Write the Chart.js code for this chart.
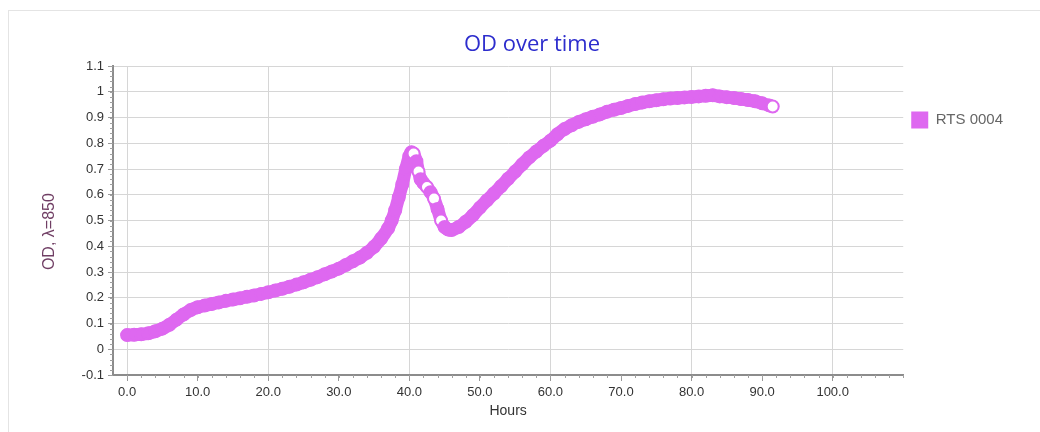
<!DOCTYPE html>
<html>
<head>
<meta charset="utf-8">
<script src="https://cdn.jsdelivr.net/npm/chart.js@4"></script>
<style>
  html, body { margin: 0; padding: 0; background: #fff; }
  #frame { position: absolute; left: 8px; top: 10px; width: 1040px; height: 432px;
           border-left: 1px solid #e4e4e4; border-top: 1px solid #e4e4e4; }
  #wrap { position: absolute; left: 0; top: 0; width: 1040px; height: 432px; }
</style>
</head>
<body>
<div id="frame"></div>
<div id="wrap"><canvas id="cvs_od"></canvas></div>
<script>
// hours since start
var hours = [0, 1, 2, 3, 4, 5, 6, 7, 8, 9, 10, 11, 12, 13, 14, 15, 16, 17, 18, 19,
  20, 21, 22, 23, 24, 25, 26, 27, 28, 29, 30, 31, 32, 33, 34, 35, 36, 37, 37.5, 38,
  38.5, 39, 39.5, 40, 40.3, 40.6, 41, 41.3, 41.6, 42, 42.5, 43, 43.5, 44, 44.5, 45,
  45.5, 46, 47, 48, 49, 50, 51, 52, 53, 54, 55, 56, 57, 58, 59, 60, 61, 62, 63, 64,
  65, 66, 67, 68, 69, 70, 71, 72, 73, 74, 75, 76, 77, 78, 79, 80, 81, 82, 83, 84,
  85, 86, 87, 88, 89, 90, 91, 91.5];
// OD at 850 nm
var od = [0.055, 0.056, 0.058, 0.062, 0.07, 0.08, 0.095, 0.115, 0.135, 0.152, 0.163,
  0.17, 0.176, 0.182, 0.188, 0.193, 0.198, 0.204, 0.209, 0.215, 0.221, 0.228, 0.235,
  0.243, 0.251, 0.26, 0.27, 0.28, 0.291, 0.302, 0.313, 0.327, 0.342, 0.356, 0.375,
  0.398, 0.43, 0.47, 0.5, 0.54, 0.59, 0.64, 0.7, 0.75, 0.765, 0.76, 0.73, 0.69, 0.66,
  0.645, 0.63, 0.61, 0.585, 0.545, 0.5, 0.475, 0.465, 0.463, 0.475, 0.495, 0.52, 0.55,
  0.578, 0.605, 0.633, 0.662, 0.69, 0.718, 0.745, 0.768, 0.79, 0.81, 0.835, 0.855,
  0.87, 0.883, 0.893, 0.903, 0.912, 0.922, 0.93, 0.937, 0.945, 0.952, 0.958, 0.963,
  0.967, 0.971, 0.974, 0.976, 0.978, 0.98, 0.982, 0.984, 0.986, 0.982, 0.979, 0.976,
  0.972, 0.968, 0.963, 0.955, 0.947, 0.943];
var xTicks = [0, 10, 20, 30, 40, 50, 60, 70, 80, 90, 100];
var yTicks = [-0.1, 0, 0.1, 0.2, 0.3, 0.4, 0.5, 0.6, 0.7, 0.8, 0.9, 1, 1.1];
// readings whose marker shows as an open ring
var openRings = [40.6, 41.3, 42.5, 43.5, 44.5, 91.5];

var violet = 'rgb(222, 104, 240)';
var points = hours.map(function (h, i) { return { x: h, y: od[i] }; });

// small tick marks between the labelled ones
var minorTicks = {
  id: 'minorTicks',
  afterDraw: function (chart) {
    var ctx = chart.ctx, xs = chart.scales.x, ys = chart.scales.y;
    ctx.save();
    ctx.strokeStyle = '#a0a0a0';
    ctx.lineWidth = 1;
    ctx.beginPath();
    for (var v = 0; v <= 110; v += 2) {
      var px = Math.round(xs.getPixelForValue(v)) + 0.5;
      ctx.moveTo(px, ys.bottom); ctx.lineTo(px, ys.bottom + 3);
    }
    for (var k = -5; k <= 55; k++) {
      var py = Math.round(ys.getPixelForValue(k * 0.02)) + 0.5;
      ctx.moveTo(xs.left - 3, py); ctx.lineTo(xs.left, py);
    }
    ctx.stroke();
    ctx.restore();
  }
};

var config = {
  type: 'line',
  data: {
    datasets: [{
      label: 'RTS 0004',
      data: points,
      borderColor: violet,
      backgroundColor: violet,
      borderWidth: 13,
      borderJoinStyle: 'round',
      borderCapStyle: 'round',
      tension: 0.2,
      fill: false,
      pointRadius: 6,
      pointBorderWidth: 2,
      pointBorderColor: violet,
      pointBackgroundColor: function (c) {
        var h = hours[c.dataIndex];
        return openRings.indexOf(h) >= 0 ? '#fff' : violet;
      }
    }]
  },
  options: {
    responsive: true,
    maintainAspectRatio: false,
    animation: false,
    layout: { padding: { top: 0, bottom: 0, left: 51, right: 27 } },
    plugins: {
      title: {
        display: true,
        text: 'OD over time',
        color: 'rgb(45, 45, 205)',
        font: { family: 'Open Sans', size: 22, weight: 'normal' },
        padding: { top: 32, bottom: 7.6 }
      },
      legend: {
        position: 'right',
        align: 'start',
        fullSize: false,
        title: { display: true, text: ' ', font: { size: 12 }, padding: { top: 23, bottom: 0 } },
        labels: {
          boxWidth: 17,
          boxHeight: 17,
          padding: 8,
          color: '#333',
          font: { family: 'Liberation Sans', size: 15 },
          generateLabels: function (chart) {
            return [{ text: 'RTS 0004', fillStyle: violet, strokeStyle: violet, lineWidth: 0, datasetIndex: 0 }];
          }
        }
      },
      tooltip: { enabled: false }
    },
    scales: {
      x: {
        type: 'linear',
        min: -2,
        max: 110,
        afterBuildTicks: function (s) { s.ticks = xTicks.map(function (v) { return { value: v }; }); },
        afterFit: function (s) { s.height = 57; },
        ticks: {
          color: '#333',
          font: { family: 'Liberation Sans', size: 13 },
          padding: 4,
          maxRotation: 0,
          callback: function (v) { return Number(v).toFixed(1); }
        },
        grid: {
          color: function (c) { return c.tick && c.tick.value % 20 === 0 ? '#d6d6d6' : 'rgba(0,0,0,0)'; },
          tickColor: '#999',
          tickLength: 6
        },
        border: { color: '#8c8c8c', width: 2 },
        title: {
          display: true,
          text: 'Hours',
          color: '#333',
          font: { family: 'Liberation Sans', size: 14 },
          padding: { top: 0, bottom: 12.6 }
        }
      },
      y: {
        min: -0.1,
        max: 1.1,
        afterBuildTicks: function (s) { s.ticks = yTicks.map(function (v) { return { value: v }; }); },
        afterFit: function (s) { s.width = 62; },
        ticks: {
          color: '#333',
          font: { family: 'Liberation Sans', size: 13 },
          padding: 4,
          callback: function (v) { return String(Math.round(v * 10) / 10); }
        },
        grid: { color: '#d6d6d6', tickColor: '#999', tickLength: 5 },
        border: { color: '#8c8c8c', width: 2 },
        title: {
          display: true,
          text: 'OD, λ=850     ',
          color: 'rgb(112, 62, 100)',
          font: { family: 'Liberation Sans', size: 16 },
          padding: { top: -10.6, bottom: 0 }
        }
      }
    }
  },
  plugins: [minorTicks]
};

window.onload = function () {
  window.odChart = new Chart(document.getElementById('cvs_od'), config);
};
</script>
</body>
</html>
